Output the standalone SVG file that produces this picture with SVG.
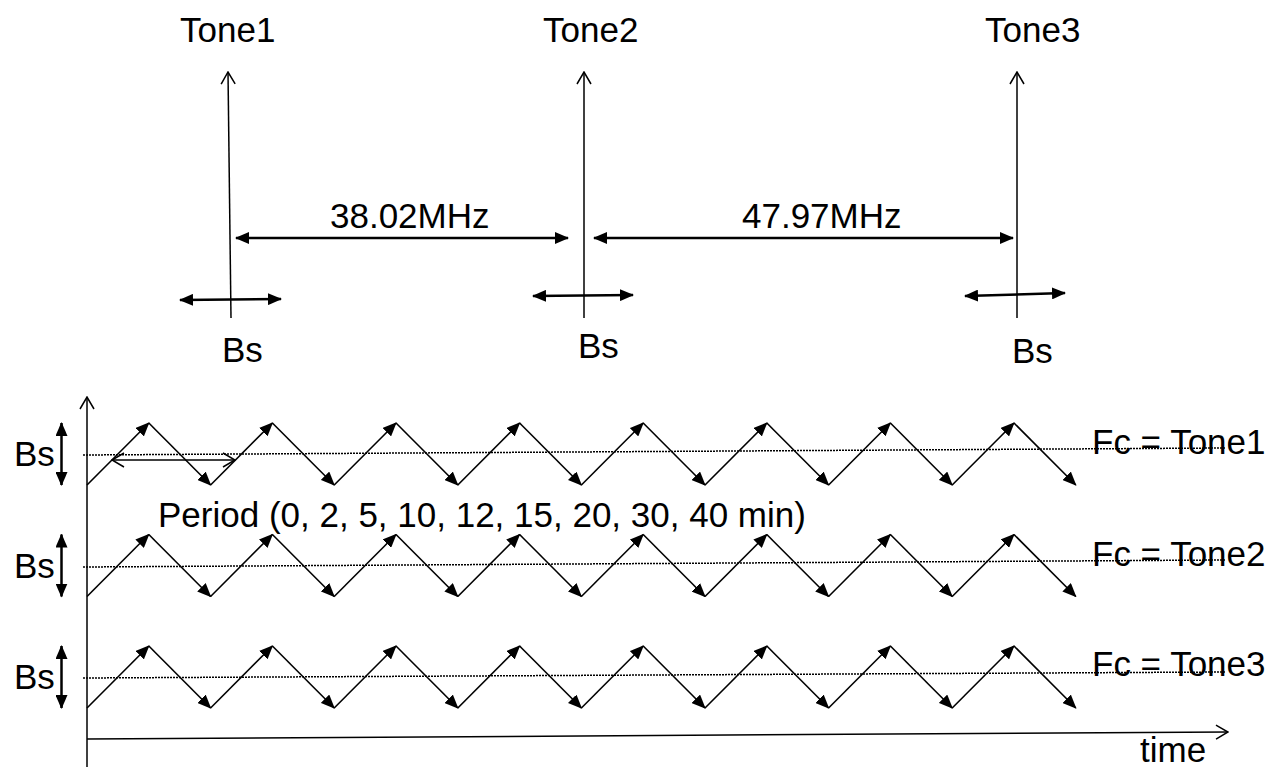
<svg xmlns="http://www.w3.org/2000/svg" xmlns:xlink="http://www.w3.org/1999/xlink" width="1278" height="767" viewBox="0 0 1278 767">
<style>
text{font-family:"Liberation Sans",Arial,sans-serif;font-size:35px;fill:#000}
.thin{stroke:#000;stroke-width:1.5;fill:none}
.arr{stroke:#000;stroke-width:2.5;fill:none}
.zz{stroke:#000;stroke-width:1.6;fill:none}
.dot{stroke:#000;stroke-width:1.5;stroke-dasharray:2 1;fill:none}
</style>
<defs>
<marker id="fh" markerUnits="userSpaceOnUse" markerWidth="14" markerHeight="12" refX="13" refY="6" orient="auto-start-reverse" viewBox="0 0 14 12">
<path d="M0,0 L14,6 L0,12 z" fill="#000"/>
</marker>
<marker id="fz" markerUnits="userSpaceOnUse" markerWidth="14" markerHeight="12" refX="13" refY="6" orient="auto" viewBox="0 0 14 12">
<path d="M0,0 L14,6 L0,12 z" fill="#000"/>
</marker>
<marker id="oh" markerUnits="userSpaceOnUse" markerWidth="14" markerHeight="16" refX="13" refY="8" orient="auto-start-reverse" viewBox="0 0 14 16">
<path d="M1,1 L13,8 L1,15" fill="none" stroke="#000" stroke-width="1.5"/>
</marker>
<g id="zig">
<line class="zz" marker-end="url(#fz)" x1="87" y1="485" x2="148.8" y2="423"/>
<line class="zz" marker-end="url(#fz)" x1="148.8" y1="423" x2="210.6" y2="485"/>
<line class="zz" marker-end="url(#fz)" x1="210.6" y1="485" x2="272.4" y2="423"/>
<line class="zz" marker-end="url(#fz)" x1="272.4" y1="423" x2="334.2" y2="485"/>
<line class="zz" marker-end="url(#fz)" x1="334.2" y1="485" x2="396" y2="423"/>
<line class="zz" marker-end="url(#fz)" x1="396" y1="423" x2="457.8" y2="485"/>
<line class="zz" marker-end="url(#fz)" x1="457.8" y1="485" x2="519.6" y2="423"/>
<line class="zz" marker-end="url(#fz)" x1="519.6" y1="423" x2="581.4" y2="485"/>
<line class="zz" marker-end="url(#fz)" x1="581.4" y1="485" x2="643.2" y2="423"/>
<line class="zz" marker-end="url(#fz)" x1="643.2" y1="423" x2="705" y2="485"/>
<line class="zz" marker-end="url(#fz)" x1="705" y1="485" x2="766.8" y2="423"/>
<line class="zz" marker-end="url(#fz)" x1="766.8" y1="423" x2="828.6" y2="485"/>
<line class="zz" marker-end="url(#fz)" x1="828.6" y1="485" x2="890.4" y2="423"/>
<line class="zz" marker-end="url(#fz)" x1="890.4" y1="423" x2="952.2" y2="485"/>
<line class="zz" marker-end="url(#fz)" x1="952.2" y1="485" x2="1014" y2="423"/>
<line class="zz" marker-end="url(#fz)" x1="1014" y1="423" x2="1075.8" y2="485"/>
</g>
<g id="bsv">
<line class="arr" marker-start="url(#fh)" marker-end="url(#fh)" x1="61.5" y1="423" x2="61.5" y2="485"/>
<text x="14" y="466">Bs</text>
</g>
</defs>

<g id="tone1">
<text x="180" y="42">Tone1</text>
<line class="thin" marker-end="url(#oh)" x1="231" y1="318" x2="228" y2="72"/>
<line class="arr" marker-start="url(#fh)" marker-end="url(#fh)" x1="180" y1="300" x2="281" y2="299"/>
<text x="222" y="362">Bs</text>
</g>
<g id="tone2">
<text x="543" y="42">Tone2</text>
<line class="thin" marker-end="url(#oh)" x1="584" y1="318" x2="584" y2="72"/>
<line class="arr" marker-start="url(#fh)" marker-end="url(#fh)" x1="533" y1="296" x2="633" y2="295"/>
<text x="578" y="358">Bs</text>
</g>
<g id="tone3">
<text x="985" y="42">Tone3</text>
<line class="thin" marker-end="url(#oh)" x1="1017" y1="318" x2="1017" y2="72"/>
<line class="arr" marker-start="url(#fh)" marker-end="url(#fh)" x1="965" y1="296" x2="1065" y2="293"/>
<text x="1012" y="363">Bs</text>
</g>
<g id="spacing">
<line class="arr" marker-start="url(#fh)" marker-end="url(#fh)" x1="236" y1="238" x2="568" y2="238"/>
<text x="330" y="228">38.02MHz</text>
<line class="arr" marker-start="url(#fh)" marker-end="url(#fh)" x1="594" y1="238" x2="1013" y2="238"/>
<text x="742" y="228">47.97MHz</text>
</g>

<g id="axes">
<line class="thin" marker-end="url(#oh)" x1="87" y1="767" x2="87" y2="397"/>
<line class="thin" marker-end="url(#oh)" x1="87" y1="739" x2="1228" y2="732"/>
<text x="1140" y="762">time</text>
</g>

<g id="row1">
<line class="dot" x1="83" y1="455" x2="1225" y2="448"/>
<use xlink:href="#zig"/>
<use xlink:href="#bsv"/>
<text x="1092" y="454">Fc = Tone1</text>
<line class="thin" marker-start="url(#oh)" marker-end="url(#oh)" x1="112" y1="460" x2="235" y2="460"/>
<text x="158" y="527">Period (0, 2, 5, 10, 12, 15, 20, 30, 40 min)</text>
</g>
<g id="row2">
<line class="dot" x1="83" y1="567" x2="1225" y2="560"/>
<use xlink:href="#zig" y="111.5"/>
<use xlink:href="#bsv" y="111.5"/>
<text x="1092" y="566">Fc = Tone2</text>
</g>
<g id="row3">
<line class="dot" x1="83" y1="678" x2="1225" y2="672"/>
<use xlink:href="#zig" y="223"/>
<use xlink:href="#bsv" y="223"/>
<text x="1092" y="676">Fc = Tone3</text>
</g>
</svg>
